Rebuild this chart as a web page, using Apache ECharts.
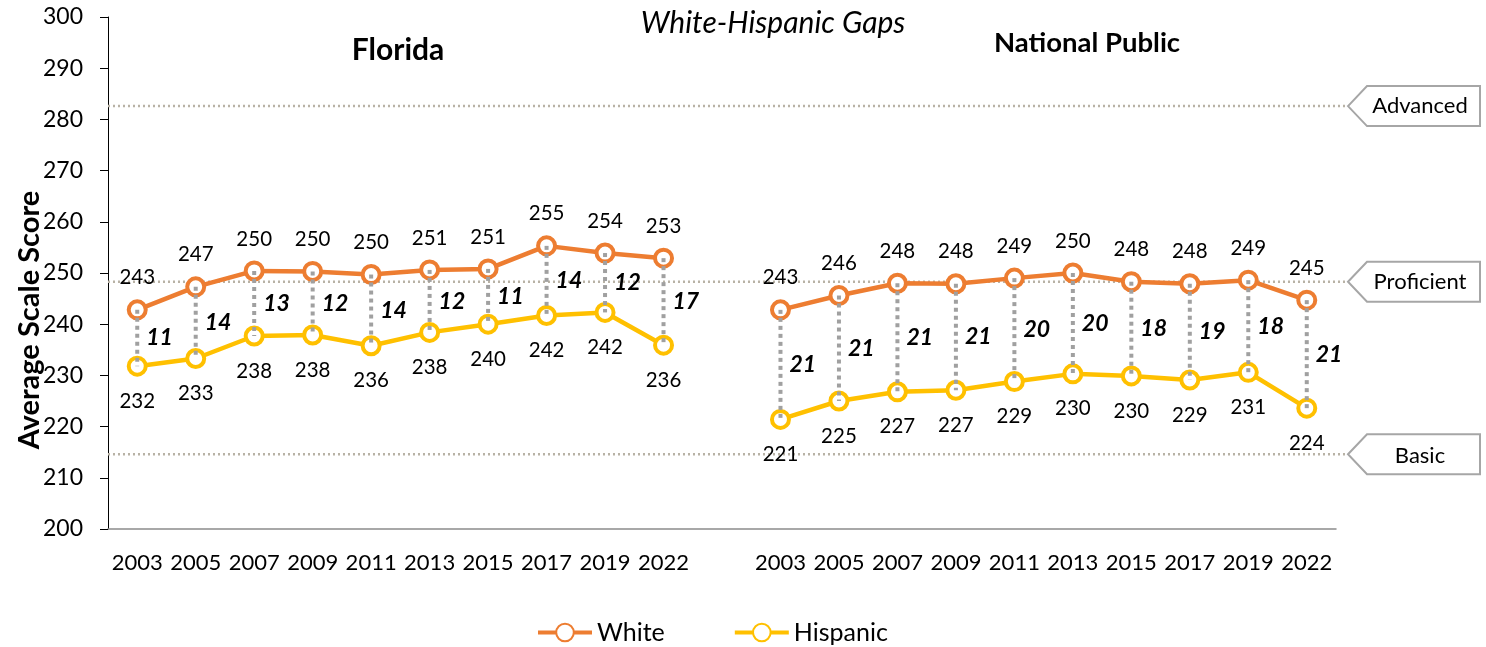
<!DOCTYPE html>
<html>
<head>
<meta charset="utf-8">
<script src="https://cdn.jsdelivr.net/npm/echarts@6/dist/echarts.min.js"></script>
<style>html,body{margin:0;padding:0;background:#fff}#c{width:1486px;height:647px}</style>
</head>
<body>
<div id="c"></div>
<script>
const years = ['2003','2005','2007','2009','2011','2013','2015','2017','2019','2022'];
const flWhite = [242.8, 247.3, 250.4, 250.3, 249.7, 250.6, 250.8, 255.3, 253.9, 252.9];
const flHisp  = [231.8, 233.3, 237.7, 237.9, 235.8, 238.4, 240.0, 241.7, 242.3, 235.9];
const npWhite = [242.8, 245.6, 248.0, 247.9, 249.0, 250.0, 248.3, 247.9, 248.6, 244.7];
const npHisp  = [221.4, 225.0, 226.8, 227.1, 228.8, 230.3, 229.9, 229.1, 230.6, 223.6];
const flGap = [11, 14, 13, 12, 14, 12, 11, 14, 12, 17];
const npGap = [21, 21, 21, 21, 20, 20, 18, 19, 18, 21];
const refValues = [282.6, 248.3, 214.6];
const refLabels = ['Advanced', 'Proficient', 'Basic'];

const categories = years.concat([''], years);
const white = flWhite.concat([null], npWhite);
const hisp = flHisp.concat([null], npHisp);
const gaps = flGap.concat([null], npGap);
const gapData = [];
for (let i = 0; i < categories.length; i++) {
  if (white[i] != null) gapData.push([i, white[i], hisp[i], gaps[i]]);
}

const FONT = 'Lato, "Open Sans", sans-serif';
const chart = echarts.init(document.getElementById('c'));
chart.setOption({
  animation: false,
  textStyle: { fontFamily: FONT, color: '#000' },
  title: [
    { text: 'White-Hispanic Gaps', left: 768, top: 3, textAlign: 'center',
      textStyle: { fontFamily: FONT, fontStyle: 'italic', fontWeight: 'normal', fontSize: 30, color: '#000' } },
    { text: 'Florida', left: 393, top: 30, textAlign: 'center',
      textStyle: { fontFamily: FONT, fontWeight: 'bold', fontSize: 30, color: '#000' } },
    { text: 'National Public', left: 1082, top: 24, textAlign: 'center',
      textStyle: { fontFamily: FONT, fontWeight: 'bold', fontSize: 27.5, color: '#000' } }
  ],
  legend: {
    left: 531, top: 615,
    itemWidth: 54, itemHeight: 22, itemGap: 68,
    textStyle: { fontFamily: FONT, fontSize: 25, color: '#000' },
    lineStyle: { width: 4 },
    data: ['White', 'Hispanic']
  },
  grid: { left: 108, right: 150, top: 17, bottom: 118, containLabel: false, outerBoundsMode: 'none' },
  xAxis: {
    type: 'category', data: categories, boundaryGap: true,
    axisLine: { lineStyle: { color: '#8c8c8c', width: 1.5 } },
    axisTick: { alignWithLabel: true, length: 8, lineStyle: { color: '#8c8c8c' } },
    axisLabel: { fontFamily: FONT, fontSize: 22, color: '#000', margin: 23, interval: 0 }
  },
  yAxis: {
    type: 'value', min: 200, max: 300, interval: 10,
    axisLine: { show: true, lineStyle: { color: '#000', width: 1 } },
    axisTick: { show: true, length: 8, lineStyle: { color: '#000' } },
    splitLine: { show: false },
    axisLabel: { fontFamily: FONT, fontSize: 23, color: '#000', margin: 25 }
  },
  series: [
    {
      name: 'White', type: 'line', data: white, connectNulls: false,
      symbol: 'circle', symbolSize: 17, z: 3,
      lineStyle: { color: '#ED7D31', width: 4.5 },
      itemStyle: { color: '#fff', borderColor: '#ED7D31', borderWidth: 4 },
      label: { show: true, position: 'top', distance: 11, fontFamily: FONT, fontSize: 20.5, color: '#000',
        formatter: p => Math.round(p.value) }
    },
    {
      name: 'Hispanic', type: 'line', data: hisp, connectNulls: false,
      symbol: 'circle', symbolSize: 17, z: 3,
      lineStyle: { color: '#FFC000', width: 4.5 },
      itemStyle: { color: '#fff', borderColor: '#FFC000', borderWidth: 4 },
      label: { show: true, position: 'bottom', distance: 14, fontFamily: FONT, fontSize: 20.5, color: '#000',
        formatter: p => Math.round(p.value) }
    },
    {
      name: 'gap', type: 'custom', data: gapData, z: 4, silent: true,
      encode: { x: 0, y: [1, 2] },
      renderItem: function (params, api) {
        const i = api.value(0);
        const a = api.coord([i, api.value(1)]);
        const b = api.coord([i, api.value(2)]);
        return {
          type: 'group',
          children: [
            { type: 'line', shape: { x1: a[0], y1: a[1], x2: b[0], y2: b[1] },
              style: { stroke: '#a0a0a0', lineWidth: 4, lineDash: [4, 4] } },
            { type: 'text', x: a[0] + 9, y: (a[1] + b[1]) / 2,
              style: { text: String(api.value(3)), fill: '#000', fontFamily: FONT,
                fontStyle: 'italic', fontWeight: 'bold', fontSize: 23,
                align: 'left', verticalAlign: 'middle' } }
          ]
        };
      }
    }
  ]
});

// Reference lines and callout boxes, positioned through the y axis scale
const gfx = [];
const lineLeft = chart.convertToPixel({ xAxisIndex: 0 }, 0) - 29.25;
refValues.forEach((v, k) => {
  const y = chart.convertToPixel({ yAxisIndex: 0 }, v);
  const tip = 1348, bl = 1367, br = 1480, h = 20;
  gfx.push({ type: 'line', z: 1, shape: { x1: lineLeft, y1: y, x2: tip, y2: y },
    style: { stroke: '#b8b2a5', lineWidth: 2.5, lineDash: [2, 3] } });
  gfx.push({ type: 'polygon', z: 5,
    shape: { points: [[tip, y], [bl, y - h], [br, y - h], [br, y + h], [bl, y + h]] },
    style: { fill: '#fff', stroke: '#a6a6a6', lineWidth: 2 } });
  gfx.push({ type: 'text', z: 6, x: 1420, y: y + (k === 2 ? 2 : 0),
    style: { text: refLabels[k], fill: '#000', fontFamily: FONT, fontSize: 22,
      align: 'center', verticalAlign: 'middle' } });
});
// Y axis title (offset below the plot middle, as in the reference)
gfx.push({ type: 'text', z: 6, x: 30, y: 320, rotation: Math.PI / 2,
  style: { text: 'Average Scale Score', fill: '#000', fontFamily: FONT, fontWeight: 'bold',
    fontSize: 29, align: 'center', verticalAlign: 'middle' } });
chart.setOption({ graphic: gfx });
</script>
</body>
</html>
